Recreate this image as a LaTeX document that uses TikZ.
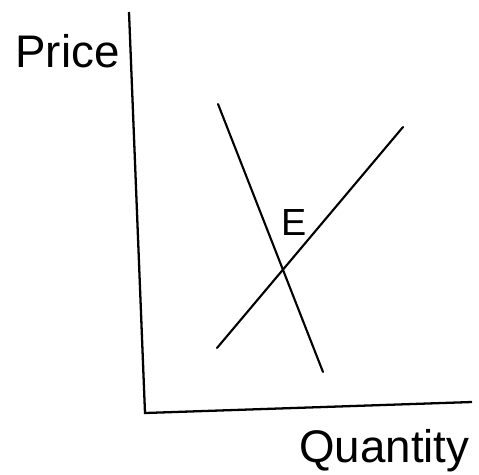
\documentclass[tikz,border=0pt]{standalone}
\usepackage{fontspec}
\setmainfont{Liberation Sans}
\usetikzlibrary{positioning}
\tikzset{
  axis/.style   = {line width=1.3pt, color=black},
  curve/.style  = {line width=1.2pt, color=black, line cap=round},
  lbl/.style    = {font=\fontsize{26}{30}\selectfont, inner sep=0pt},
  ptlbl/.style  = {font=\fontsize{21.5}{25}\selectfont, inner sep=0pt},
}

\begin{document}
\begin{tikzpicture}[x=0.02cm, y=-0.02cm]
  \useasboundingbox (0,0) rectangle (479,474);
  % axes
  \coordinate (ytop) at (129,12);
  \coordinate (origin) at (145,413);
  \coordinate (xend) at (472,402);
  \draw[axis] (ytop) -- (origin) -- (xend);
  % demand and supply
  \coordinate (dtop) at (218,104);
  \coordinate (dbot) at (323,372);
  \coordinate (stop) at (403,127);
  \coordinate (sbot) at (217,348);
  \draw[curve] (dtop) -- (dbot);
  \draw[curve] (sbot) -- (stop);
  % labels
  \node[lbl, anchor=base west] (price) at (15,67) {Price};
  \node[lbl, anchor=base west] (qty) at (299,462) {Quantity};
  \node[ptlbl, anchor=base west] (eq) at (281,235) {E};
\end{tikzpicture}
\end{document}
